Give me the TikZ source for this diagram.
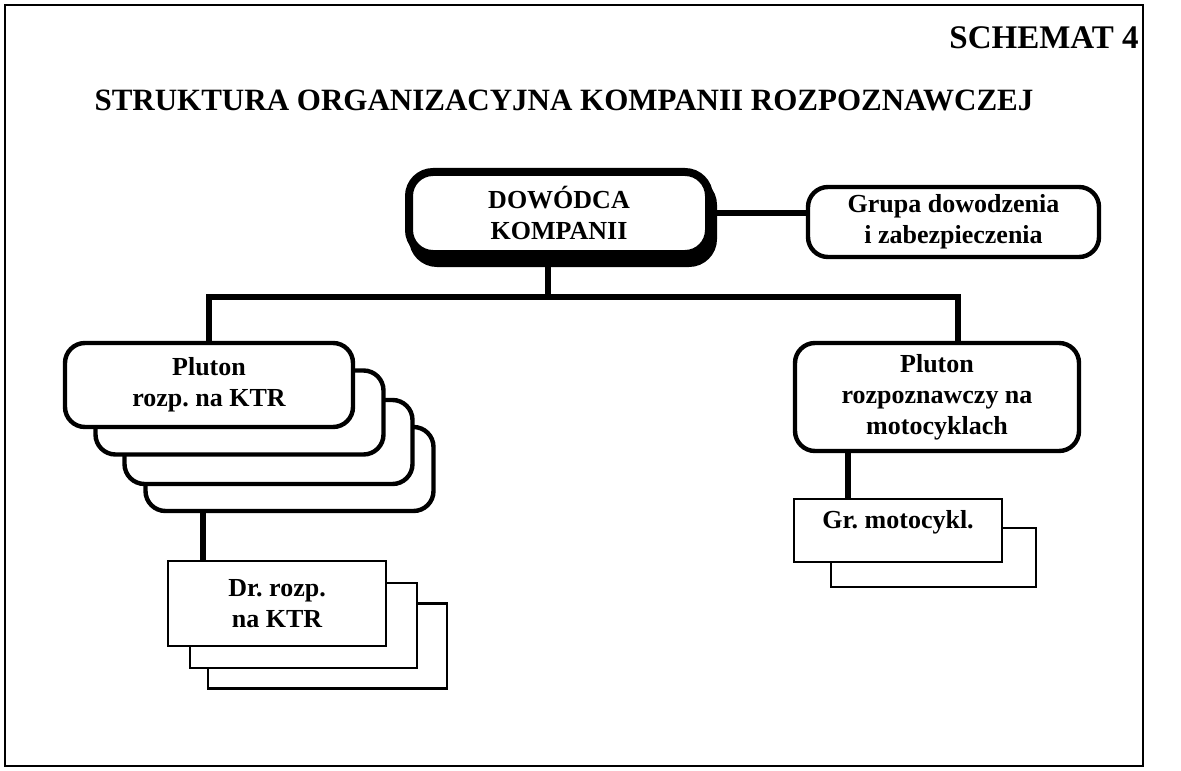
\documentclass[tikz,border=0pt]{standalone}
\usepackage{fontspec}
\setmainfont{Liberation Serif}
\usetikzlibrary{positioning}
\frenchspacing

\tikzset{
    boxfont/.style={font=\fontsize{13}{15.5}\selectfont\bfseries},
    unitbox/.style={draw, line width=2.2pt, rounded corners=10pt, fill=white, align=center,
        inner sep=0pt, boxfont},
    subbox/.style={draw, line width=1.3pt, fill=white, align=center,
        inner sep=0pt, boxfont},
    conn/.style={line width=2.8pt},
}

\begin{document}
\begin{tikzpicture}[x=0.5pt, y=-0.5pt]
    \useasboundingbox (0,0) rectangle (1181,770);
    \draw[line width=1pt] (5,5) rectangle (1143,766);

    % Headings
    \node[anchor=east, inner sep=0pt, font=\fontsize{16.5}{18}\selectfont\bfseries] (schemat) at (1139,38) {SCHEMAT 4};
    \node[font=\fontsize{15.5}{18}\selectfont\bfseries] (tytul) at (564,100)
        {STRUKTURA ORGANIZACYJNA KOMPANII ROZPOZNAWCZEJ};

    % Company commander and command group
    \begin{scope}
        \node[unitbox, fill=black, line width=4pt, rounded corners=12pt,
            minimum width=150pt, minimum height=41pt] (cien) at (563,222) {};
        \node[unitbox, line width=4pt, rounded corners=12pt,
            minimum width=150pt, minimum height=41pt] (dowodca) at (559,213) {DOWÓDCA\\KOMPANII};
        \node[unitbox, minimum width=145.5pt, minimum height=35pt] (grupa) at (953.5,222)
            {Grupa dowodzenia\\i zabezpieczenia};
        \draw[conn] (dowodca.east) -- (dowodca.east -| grupa.west);
    \end{scope}

    % Platoons
    \begin{scope}
        \node[unitbox, minimum width=144pt, minimum height=42pt] (ktrC) at (289.5,469) {};
        \node[unitbox, minimum width=144pt, minimum height=42pt] (ktrB) at (268.5,442) {};
        \node[unitbox, minimum width=144pt, minimum height=42pt] (ktrA) at (239.5,412.5) {};
        \node[unitbox, minimum width=144pt, minimum height=42pt] (ktr) at (209,385) {Pluton\\rozp. na KTR};
        \node[unitbox, minimum width=142pt, minimum height=54pt] (moto) at (937,397)
            {Pluton\\rozpoznawczy na\\motocyklach};

        \coordinate (bus) at (548,297);
        \draw[conn] (dowodca.south -| bus) -- (bus);
        \draw[conn] (bus) -| (ktr.north);
        \draw[conn] (bus) -| ([xshift=10.5pt]moto.north);
    \end{scope}

    % Sections
    \begin{scope}
        \node[subbox, minimum width=119.5pt, minimum height=42.5pt] (drC) at (327.5,646) {};
        \node[subbox, minimum width=113.5pt, minimum height=42.5pt] (drB) at (303.5,625.5) {};
        \node[subbox, minimum width=109pt, minimum height=42.5pt] (dr) at (277,603.5) {Dr. rozp.\\na KTR};
        \coordinate (drtop) at ([xshift=18pt]dr.north west);
        \draw[conn] (drtop) -- (drtop |- ktrC.south);

        \node[subbox, minimum width=102.5pt, minimum height=29.5pt] (grB) at (933.5,557.5) {};
        \node[subbox, minimum width=104pt, minimum height=31.5pt] (gr) at (898,530.5) {};
        \node[boxfont, inner sep=0pt, anchor=north] (grtxt) at ([yshift=-6pt]gr.north) {Gr. motocykl.};
        \coordinate (grtop) at ([xshift=27.5pt]gr.north west);
        \draw[conn] (grtop) -- (grtop |- moto.south);
    \end{scope}
\end{tikzpicture}
\end{document}
